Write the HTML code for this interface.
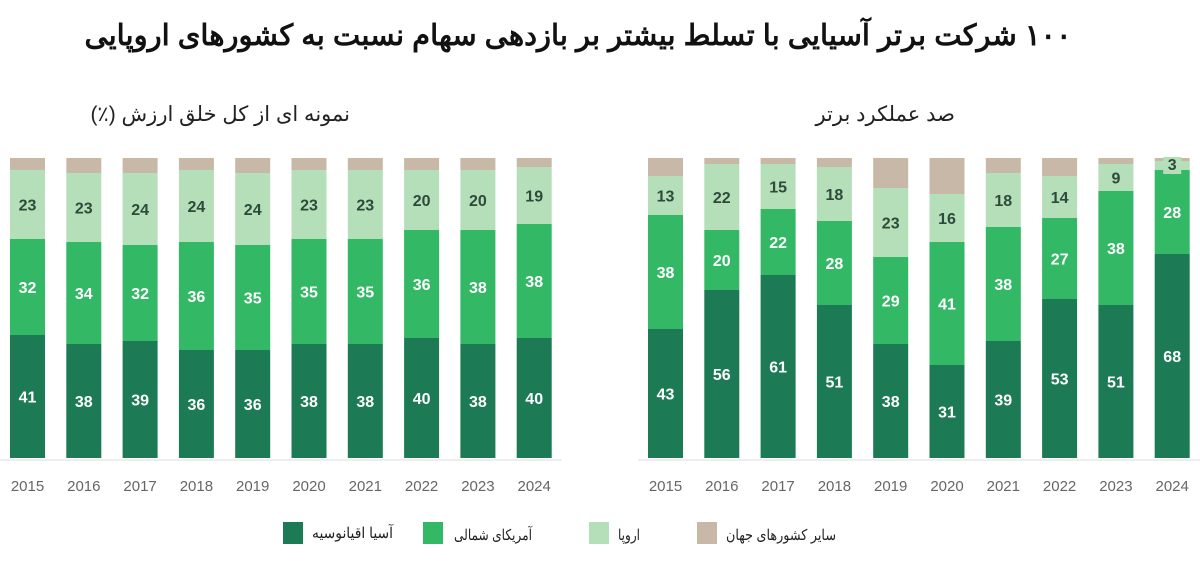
<!DOCTYPE html>
<html><head><meta charset="utf-8">
<style>
html,body{margin:0;padding:0;background:#fff;width:1200px;height:561px;overflow:hidden}
svg{display:block}
text{font-family:"Liberation Sans","Noto Sans CJK SC",sans-serif}
</style></head>
<body>
<svg id="s" width="1200" height="561" viewBox="0 0 1200 561" xmlns="http://www.w3.org/2000/svg">
<text x="578" y="45" text-anchor="middle" font-size="29" font-weight="bold" fill="#111" direction="rtl">۱۰۰ شرکت برتر آسیایی با تسلط بیشتر بر بازدهی سهام نسبت به کشورهای اروپایی</text>
<text x="350" y="121" text-anchor="start" font-size="21" fill="#222" direction="rtl">نمونه ای از کل خلق ارزش (٪)</text>
<text x="955" y="121" text-anchor="start" font-size="21" fill="#222" direction="rtl">صد عملکرد برتر</text>
<g id="bars"></g>
<rect x="283" y="522" width="20" height="22" fill="#1c7a55"/>
<text x="312" y="538" font-size="15" fill="#222" textLength="81" lengthAdjust="spacingAndGlyphs">آسیا اقیانوسیه</text>
<rect x="423" y="522" width="20" height="22" fill="#33b865"/>
<text x="454" y="540" font-size="15" fill="#222" textLength="78" lengthAdjust="spacingAndGlyphs">آمریکای شمالی</text>
<rect x="589" y="522" width="20" height="22" fill="#b4dfb9"/>
<text x="618" y="540" font-size="15" fill="#222" textLength="22" lengthAdjust="spacingAndGlyphs">اروپا</text>
<rect x="697" y="522" width="20" height="22" fill="#c8b8a8"/>
<text x="726" y="540" font-size="15" fill="#222" textLength="110" lengthAdjust="spacingAndGlyphs">سایر کشورهای جهان</text>
</svg>
<script>
(function(){
var g=document.getElementById('bars'),NS='http://www.w3.org/2000/svg';
function el(t,a,txt){var e=document.createElementNS(NS,t);for(var k in a)e.setAttribute(k,a[k]);if(txt!==undefined)e.textContent=txt;g.appendChild(e);return e;}
var charts=[
 {x0:10,A:[41,38,39,36,36,38,38,40,38,40],N:[32,34,32,36,35,35,35,36,38,38],E:[23,23,24,24,24,23,23,20,20,19]},
 {x0:648,A:[43,56,61,51,38,31,39,53,51,68],N:[38,20,22,28,29,41,38,27,38,28],E:[13,22,15,18,23,16,18,14,9,3]}
];
var ytop=158,bot=458,k=3,w=35,sp=56.3;
charts.forEach(function(c){
 for(var i=0;i<10;i++){
  var x=c.x0+i*sp;
  var ya=bot-c.A[i]*k, yn=ya-c.N[i]*k, ye=yn-c.E[i]*k;
  el('rect',{x:x,y:ytop,width:w,height:Math.max(0,ye-ytop),fill:'#c8b8a8'});
  el('rect',{x:x,y:ye,width:w,height:yn-ye,fill:'#b4dfb9'});
  el('rect',{x:x,y:yn,width:w,height:ya-yn,fill:'#33b865'});
  el('rect',{x:x,y:ya,width:w,height:bot-ya,fill:'#1c7a55'});
  var cx=x+w/2;
  el('text',{x:cx,y:(ya+bot)/2+6,'text-anchor':'middle','font-size':16,'font-weight':'bold',fill:'#fff'},c.A[i]);
  el('text',{x:cx,y:(yn+ya)/2+6,'text-anchor':'middle','font-size':16,'font-weight':'bold',fill:'#fff'},c.N[i]);
  if(c.E[i]<5){el('rect',{x:cx-9,y:ye-4,width:18,height:17,fill:'#b4dfb9'});}
  el('text',{x:cx,y:c.E[i]<5?ye+9:(ye+yn)/2+6,'text-anchor':'middle','font-size':16,'font-weight':'bold',fill:'#2d4a3a'},c.E[i]);
  el('text',{x:cx,y:491,'text-anchor':'middle','font-size':15,fill:'#666'},2015+i);
 }
 el('line',{x1:c.x0-10,y1:bot+2,x2:c.x0+9*sp+w+10,y2:bot+2,stroke:'#ddd','stroke-width':1});
});
})();
</script>
</body></html>
